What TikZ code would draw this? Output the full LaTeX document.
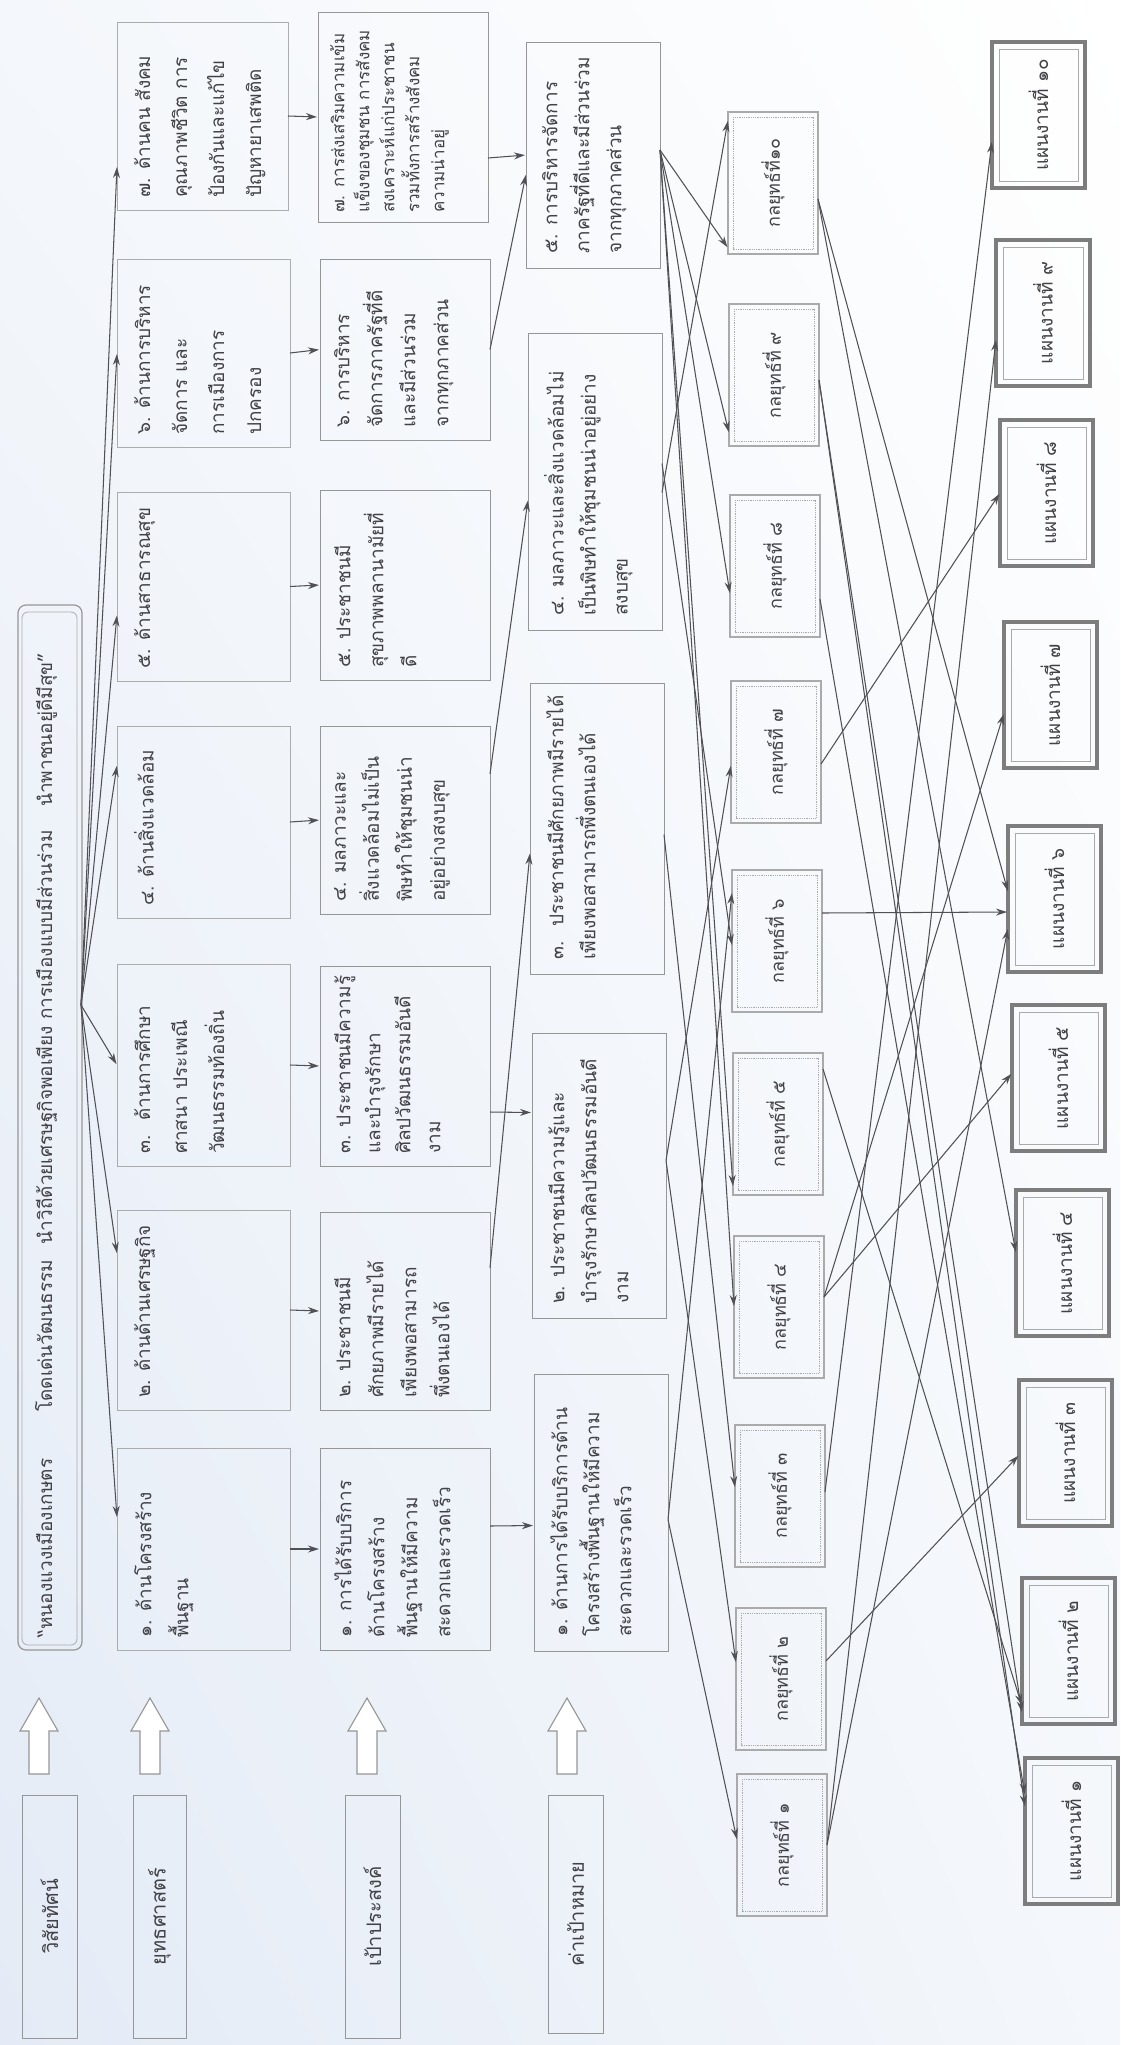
\documentclass[tikz,border=0pt]{standalone}
\usepackage{fontspec}
\newfontfamily\thai[Script=Thai]{Loma}
\usetikzlibrary{arrows.meta,calc,shadings}
\definecolor{ln}{RGB}{150,150,150}
\definecolor{lnb}{RGB}{172,172,172}
\definecolor{lnl}{RGB}{170,170,170}
\definecolor{ar}{RGB}{80,80,85}
\definecolor{tx}{RGB}{65,65,70}
\definecolor{fb}{RGB}{125,125,125}
\definecolor{tintA}{RGB}{228,235,246}
\definecolor{tintB}{RGB}{244,247,251}
\tikzset{
  box/.style={draw=ln, line width=1pt, inner sep=0pt, outer sep=0pt, rectangle},
  bbox/.style={box, draw=lnb},
  vbox/.style={box, rounded corners=8pt, line width=1.2pt},
  sbox/.style={draw=lnl, line width=2.4pt, inner sep=0pt, outer sep=0pt, rectangle},
  fbox/.style={draw=fb, line width=3.5pt, inner sep=0pt, outer sep=0pt, rectangle},
  arr/.style={draw=ar, line width=1.05pt, -{Stealth[length=11pt,width=7pt]}, shorten >=1pt},
  tt/.style={text=tx, inner sep=0pt, rotate=90},
  hol/.style={draw=ln, line width=1.1pt, fill=white, line join=miter},
}
\newcommand\rbox[6]{\node[#2, anchor=north west, minimum width={#5-#3}, minimum height={#6-#4}] (#1) at (#3,#4) {};}
\newcommand\btext[5]{\node[tt, anchor=north west, align=left, font={\thai\fontsize{19}{#4}\selectfont}] (#1t) at ([xshift=#2pt,yshift=#3pt]#1.south west) {#5};}
\newcommand\ctext[3]{\node[tt, font={\thai\fontsize{#2}{#2}\selectfont}] (#1t) at (#1.center) {#3};}
\newcommand\conn[4]{\draw[arr] ([yshift=#2pt]#1.east) -- ([yshift=#4pt]#3.west);}
\newcommand\innerbox[3]{\draw[lnl, line width=0.8pt, #3] ([xshift=#2pt,yshift=-#2pt]#1.north west) rectangle ([xshift=-#2pt,yshift=#2pt]#1.south east);}
\newcommand\hollow[1]{\draw[hol] (#1,1698) -- (#1+19,1731) -- (#1+10,1731) -- (#1+10,1774) -- (#1-10,1774) -- (#1-10,1731) -- (#1-19,1731) -- cycle;}
\begin{document}
\begin{tikzpicture}[x=1pt,y=-1pt]
\useasboundingbox (0,0) rectangle (1120,2045);
\shade[lower left=tintA, upper left=tintB, lower right=tintB, upper right=white] (0,0) rectangle (1120,2045);

% vision
\rbox{V}{vbox}{18}{605}{82}{1650}
\draw[lnb, line width=0.8pt, rounded corners=6pt] (22,612) rectangle (77,1645);
\node[tt, anchor=west, font={\thai\fontsize{19}{24}\selectfont}] (Vt) at (46,1638) {\makebox[985pt][s]{“หนองแวงเมืองเกษตร\hspace{\stretch{3}}โดดเด่นวัฒนธรรม\hspace{\stretch{1}}นำวิถีด้วยเศรษฐกิจพอเพียง การเมืองแบบมีส่วนร่วม\hspace{\stretch{1.5}}นำพาชนอยู่ดีมีสุข”}};

% strategies (yuttasat)
\rbox{B7}{bbox}{117}{22}{288}{210}
\rbox{B6}{bbox}{117}{259}{290}{447}
\rbox{B5}{bbox}{117}{492}{290}{681}
\rbox{B4}{bbox}{117}{726}{290}{918}
\rbox{B3}{bbox}{117}{964}{290}{1166}
\rbox{B2}{bbox}{117}{1210}{290}{1410}
\rbox{B1}{bbox}{117}{1448}{290}{1650}
\btext{B7}{17}{12}{37}{๗. ด้านคน สังคม\\คุณภาพชีวิต การ\\ป้องกันและแก้ไข\\ปัญหายาเสพติด}
\btext{B6}{17}{12}{37}{๖. ด้านการบริหาร\\จัดการ และ\\การเมืองการ\\ปกครอง}
\btext{B5}{17}{12}{37}{๕. ด้านสาธารณสุข}
\btext{B4}{17}{12}{37}{๔. ด้านสิ่งแวดล้อม}
\btext{B3}{17}{12}{37}{๓.~ ด้านการศึกษา\\ศาสนา ประเพณี\\วัฒนธรรมท้องถิ่น}
\btext{B2}{17}{12}{37}{๒. ด้านด้านเศรษฐกิจ}
\btext{B1}{17}{12}{37}{๑. ด้านโครงสร้าง\\พื้นฐาน}

% goals (pao prasong)
\rbox{C7}{box}{318}{12}{488}{222}
\rbox{C6}{box}{320}{259}{490}{440}
\rbox{C5}{box}{320}{490}{490}{680}
\rbox{C4}{box}{320}{726}{490}{914}
\rbox{C3}{box}{320}{966}{490}{1166}
\rbox{C2}{box}{320}{1212}{490}{1410}
\rbox{C1}{box}{320}{1448}{490}{1650}
\node[tt, anchor=north west, align=left, font={\thai\fontsize{17}{25}\selectfont}] (C7t) at ([xshift=12pt,yshift=9pt]C7.south west) {๗. การส่งเสริมความเข้ม\\แข็งของชุมชน การสังคม\\สงเคราะห์แก่ประชาชน\\รวมทั้งการสร้างสังคม\\ความน่าอยู่};
\btext{C6}{14}{12}{33}{๖. การบริหาร\\จัดการภาครัฐที่ดี\\และมีส่วนร่วม\\จากทุกภาคส่วน}
\btext{C5}{14}{12}{33}{๕. ประชาชนมี\\สุขภาพพลานามัยที่\\ดี}
\btext{C4}{14}{12}{33}{๔. มลภาวะและ\\สิ่งแวดล้อมไม่เป็น\\พิษทำให้ชุมชนน่า\\อยู่อย่างสงบสุข}
\btext{C3}{14}{12}{30}{๓. ประชาชนมีความรู้\\และบำรุงรักษา\\ศิลปวัฒนธรรมอันดี\\งาม}
\btext{C2}{14}{12}{33}{๒. ประชาชนมี\\ศักยภาพมีรายได้\\เพียงพอสามารถ\\พึ่งตนเองได้}
\btext{C1}{14}{12}{33}{๑. การได้รับบริการ\\ด้านโครงสร้าง\\พื้นฐานให้มีความ\\สะดวกและรวดเร็ว}

% targets (ka pao mai)
\rbox{T5}{box}{526}{42}{660}{268}
\rbox{T4}{box}{528}{333}{662}{630}
\rbox{T3}{box}{530}{683}{664}{974}
\rbox{T2}{box}{532}{1033}{666}{1318}
\rbox{T1}{box}{534}{1374}{668}{1651}
\btext{T5}{16}{14}{32}{๕. การบริหารจัดการ\\ภาครัฐที่ดีและมีส่วนร่วม\\จากทุกภาคส่วน}
\btext{T4}{16}{14}{32}{๔. มลภาวะและสิ่งแวดล้อมไม่\\เป็นพิษทำให้ชุมชนน่าอยู่อย่าง\\สงบสุข}
\btext{T3}{16}{14}{32}{๓.~ ประชาชนมีศักยภาพมีรายได้\\เพียงพอสามารถพึ่งตนเองได้}
\btext{T2}{16}{14}{32}{๒. ประชาชนมีความรู้และ\\บำรุงรักษาศิลปวัฒนธรรมอันดี\\งาม}
\btext{T1}{16}{14}{32}{๑. ด้านการได้รับบริการด้าน\\โครงสร้างพื้นฐานให้มีความ\\สะดวกและรวดเร็ว}

% strategies (kon yut)
\rbox{S10}{sbox}{728}{112}{818}{254}
\rbox{S9}{sbox}{729}{304}{819}{446}
\rbox{S8}{sbox}{730}{495}{820}{637}
\rbox{S7}{sbox}{731}{681}{821}{823}
\rbox{S6}{sbox}{732}{870}{822}{1012}
\rbox{S5}{sbox}{733}{1053}{823}{1195}
\rbox{S4}{sbox}{734}{1236}{824}{1378}
\rbox{S3}{sbox}{735}{1425}{825}{1567}
\rbox{S2}{sbox}{736}{1608}{826}{1750}
\rbox{S1}{sbox}{737}{1774}{827}{1916}
\foreach \n in {S1,S2,S3,S4,S5,S6,S7,S8,S9,S10} {\innerbox{\n}{5}{densely dotted}}
\ctext{S10}{18}{กลยุทธ์ที่๑๐}
\ctext{S9}{18}{กลยุทธ์ที่ ๙}
\ctext{S8}{18}{กลยุทธ์ที่ ๘}
\ctext{S7}{18}{กลยุทธ์ที่ ๗}
\ctext{S6}{18}{กลยุทธ์ที่ ๖}
\ctext{S5}{18}{กลยุทธ์ที่ ๕}
\ctext{S4}{18}{กลยุทธ์ที่ ๔}
\ctext{S3}{18}{กลยุทธ์ที่ ๓}
\ctext{S2}{18}{กลยุทธ์ที่ ๒}
\ctext{S1}{18}{กลยุทธ์ที่ ๑}

% plans (phaen ngan)
\rbox{F10}{fbox}{992}{42}{1085}{188}
\rbox{F9}{fbox}{996}{240}{1090}{386}
\rbox{F8}{fbox}{1000}{420}{1093}{566}
\rbox{F7}{fbox}{1004}{622}{1097}{768}
\rbox{F6}{fbox}{1008}{826}{1101}{972}
\rbox{F5}{fbox}{1012}{1005}{1105}{1151}
\rbox{F4}{fbox}{1016}{1190}{1109}{1336}
\rbox{F3}{fbox}{1019}{1380}{1112}{1526}
\rbox{F2}{fbox}{1022}{1578}{1115}{1724}
\rbox{F1}{fbox}{1025}{1758}{1118}{1904}
\foreach \n in {F1,F2,F3,F4,F5,F6,F7,F8,F9,F10} {\innerbox{\n}{7}{solid}}
\ctext{F10}{19}{แผนงานที่ ๑๐}
\ctext{F9}{19}{แผนงานที่ ๙}
\ctext{F8}{19}{แผนงานที่ ๘}
\ctext{F7}{19}{แผนงานที่ ๗}
\ctext{F6}{19}{แผนงานที่ ๖}
\ctext{F5}{19}{แผนงานที่ ๕}
\ctext{F4}{19}{แผนงานที่ ๔}
\ctext{F3}{19}{แผนงานที่ ๓}
\ctext{F2}{19}{แผนงานที่ ๒}
\ctext{F1}{19}{แผนงานที่ ๑}

% row labels
\rbox{L1}{box}{22}{1795}{77}{2038}
\rbox{L2}{box}{133}{1795}{186}{2038}
\rbox{L3}{box}{345}{1795}{400}{2038}
\rbox{L4}{box}{548}{1795}{603}{2033}
\ctext{L1}{20}{วิสัยทัศน์}
\ctext{L2}{20}{ยุทธศาสตร์}
\ctext{L3}{20}{เป้าประสงค์}
\ctext{L4}{20}{ค่าเป้าหมาย}
\hollow{39}
\hollow{150}
\hollow{367}
\hollow{567}

% vision fan
\coordinate (fan) at (81,1005);
\draw[arr] (fan) -- ([yshift=-50pt]B7.west);
\draw[arr] (fan) -- (B6.west);
\draw[arr] (fan) -- ([yshift=-28pt]B5.west);
\draw[arr] (fan) -- ([yshift=57pt]B4.west);
\draw[arr] (fan) -- (B3.west);
\draw[arr] (fan) -- ([yshift=56pt]B2.west);
\draw[arr] (fan) -- ([yshift=31pt]B1.west);

% strategy -> goal
\foreach \n in {1,...,7} {\draw[arr] (B\n.east) -- (C\n.west);}

% goal -> target
\conn{C7}{-41}{T5}{0}
\conn{C6}{0}{T5}{-19}
\conn{C4}{46}{T4}{-18}
\conn{C3}{-46}{T2}{63}
\conn{C2}{43}{T3}{-24}
\conn{C1}{23}{T1}{-13}

% target -> kon yut
\conn{T5}{5}{S10}{-65}
\conn{T5}{5}{S9}{-58}
\conn{T5}{5}{S8}{-28}
\conn{T5}{5}{S5}{-63}
\conn{T5}{5}{S4}{0}
\conn{T4}{-11}{S10}{63}
\conn{T4}{18}{S6}{-5}
\conn{T3}{-6}{S3}{8}
\conn{T2}{15}{S7}{-13}
\conn{T2}{15}{S2}{16}
\conn{T1}{-7}{S1}{5}
\conn{T1}{-7}{S6}{49}

% kon yut -> plans
\conn{S10}{-16}{F6}{7}
\conn{S10}{-16}{F4}{10}
\conn{S9}{-5}{F2}{-62}
\conn{S9}{-5}{F1}{24}
\conn{S8}{-33}{F1}{36}
\conn{S7}{-12}{F8}{0}
\conn{S6}{28}{F6}{-13}
\conn{S5}{55}{F2}{-55}
\conn{S4}{10}{F7}{-18}
\conn{S4}{10}{F5}{5}
\conn{S3}{4}{F10}{-26}
\conn{S2}{18}{F3}{-2}
\conn{S1}{0}{F9}{-26}
\conn{S1}{0}{F6}{-29}
\end{tikzpicture}
\end{document}
